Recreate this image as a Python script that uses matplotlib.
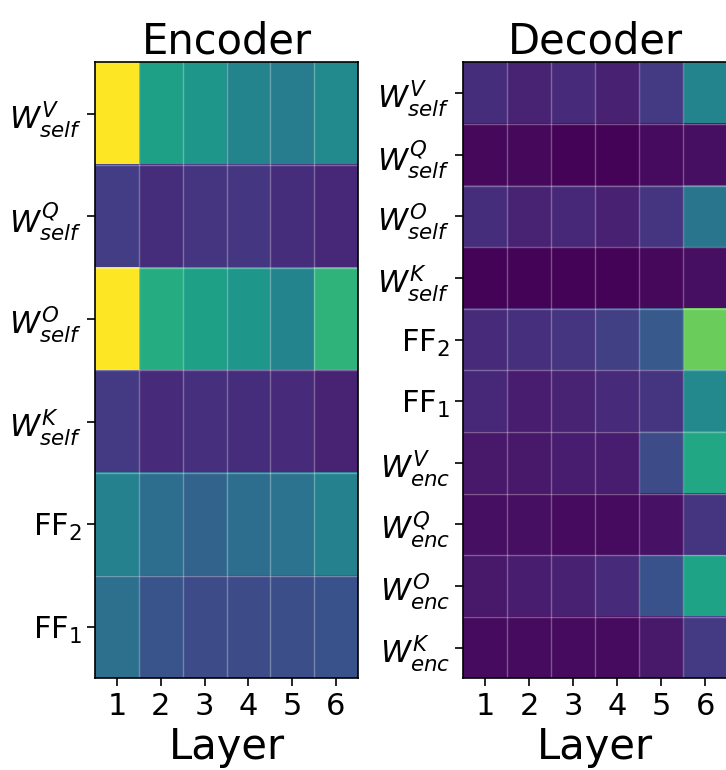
import numpy as np
import matplotlib
matplotlib.use("Agg")
import matplotlib.pyplot as plt

layers = ["1", "2", "3", "4", "5", "6"]

enc_labels = [r"$W^{V}_{self}$", r"$W^{Q}_{self}$", r"$W^{O}_{self}$",
              r"$W^{K}_{self}$", r"FF$_2$", r"FF$_1$"]
enc_wv_self = [1.00, 0.57, 0.53, 0.45, 0.42, 0.48]
enc_wq_self = [0.18, 0.13, 0.15, 0.16, 0.13, 0.11]
enc_wo_self = [1.00, 0.62, 0.57, 0.53, 0.45, 0.65]
enc_wk_self = [0.17, 0.12, 0.14, 0.13, 0.12, 0.10]
enc_ff2 = [0.44, 0.36, 0.32, 0.36, 0.38, 0.44]
enc_ff1 = [0.37, 0.26, 0.23, 0.23, 0.24, 0.25]

dec_labels = [r"$W^{V}_{self}$", r"$W^{Q}_{self}$", r"$W^{O}_{self}$",
              r"$W^{K}_{self}$", r"FF$_2$", r"FF$_1$",
              r"$W^{V}_{enc}$", r"$W^{Q}_{enc}$", r"$W^{O}_{enc}$",
              r"$W^{K}_{enc}$"]
dec_wv_self = [0.13, 0.10, 0.12, 0.09, 0.17, 0.45]
dec_wq_self = [0.02, 0.02, 0.01, 0.01, 0.03, 0.04]
dec_wo_self = [0.13, 0.10, 0.11, 0.09, 0.15, 0.39]
dec_wk_self = [0.01, 0.01, 0.01, 0.01, 0.02, 0.04]
dec_ff2 = [0.12, 0.14, 0.15, 0.19, 0.28, 0.77]
dec_ff1 = [0.11, 0.08, 0.10, 0.12, 0.15, 0.47]
dec_wv_enc = [0.07, 0.07, 0.08, 0.08, 0.23, 0.60]
dec_wq_enc = [0.04, 0.04, 0.03, 0.03, 0.05, 0.15]
dec_wo_enc = [0.07, 0.08, 0.09, 0.12, 0.25, 0.58]
dec_wk_enc = [0.03, 0.03, 0.03, 0.03, 0.07, 0.17]

enc = np.array([enc_wv_self, enc_wq_self, enc_wo_self, enc_wk_self, enc_ff2, enc_ff1])
dec = np.array([dec_wv_self, dec_wq_self, dec_wo_self, dec_wk_self, dec_ff2, dec_ff1,
                dec_wv_enc, dec_wq_enc, dec_wo_enc, dec_wk_enc])

fig = plt.figure(figsize=(7.26, 7.70), dpi=100)
ax1 = fig.add_axes([0.131, 0.119, 0.362, 0.800])
ax2 = fig.add_axes([0.638, 0.119, 0.364, 0.800])


def draw(ax, data, labels, title):
    nr, nc = data.shape
    ax.imshow(data, cmap="viridis", vmin=0, vmax=1, aspect="auto",
              interpolation="nearest")
    for i in range(1, nc):
        ax.axvline(i - 0.5, color="white", alpha=0.3, lw=1)
    for j in range(1, nr):
        ax.axhline(j - 0.5, color="white", alpha=0.3, lw=1)
    ax.set_xticks(range(nc))
    ax.set_xticklabels(layers, fontsize=22)
    ax.set_yticks(range(nr))
    ax.set_yticklabels(labels, fontsize=22)
    ax.tick_params(length=6, width=1.2)
    ax.set_title(title, fontsize=30, pad=5)
    ax.set_xlabel("Layer", fontsize=30, labelpad=4)
    for s in ax.spines.values():
        s.set_linewidth(1.2)


draw(ax1, enc, enc_labels, "Encoder")
draw(ax2, dec, dec_labels, "Decoder")

fig.savefig("out.png", dpi=100)
